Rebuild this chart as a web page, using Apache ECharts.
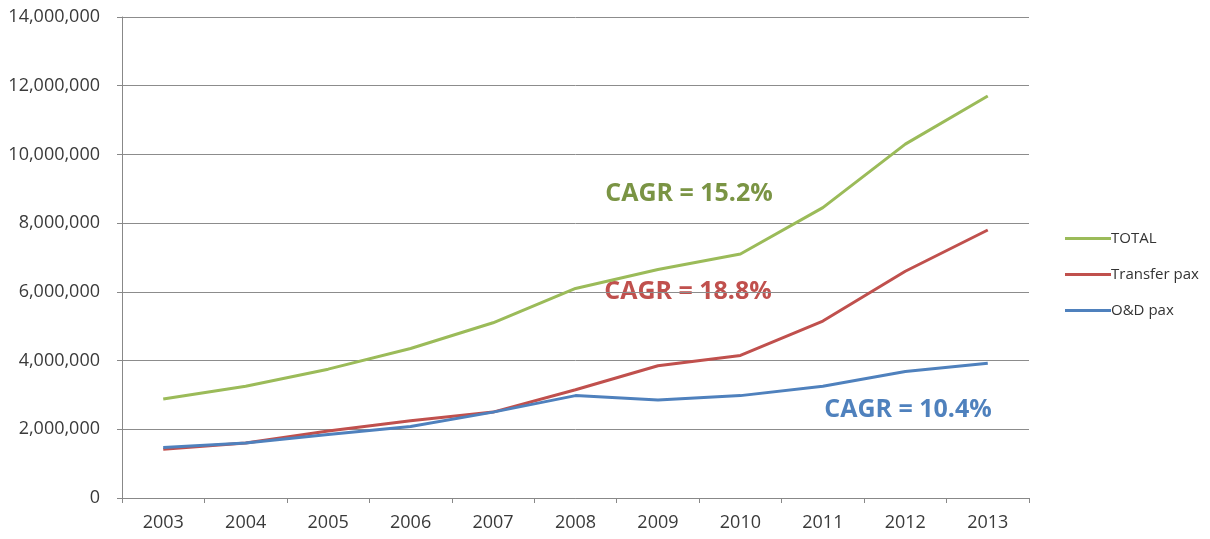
<!DOCTYPE html>
<html>
<head>
<meta charset="utf-8">
<script src="https://cdn.jsdelivr.net/npm/echarts@6/dist/echarts.min.js"></script>
<style>
  html, body { margin: 0; padding: 0; background: #ffffff; }
  #chart { width: 1210px; height: 539px; }
</style>
</head>
<body>
<div id="chart"></div>
<script>
// Passenger traffic by year
const years = ['2003', '2004', '2005', '2006', '2007', '2008', '2009', '2010', '2011', '2012', '2013'];
const totalPax = [2880000, 3250000, 3750000, 4350000, 5100000, 6100000, 6650000, 7100000, 8450000, 10300000, 11700000];
const transferPax = [1420000, 1600000, 1950000, 2250000, 2500000, 3150000, 3850000, 4150000, 5150000, 6600000, 7800000];
const odPax = [1470000, 1600000, 1850000, 2080000, 2500000, 2980000, 2850000, 2980000, 3250000, 3680000, 3920000];
const seriesNames = ['TOTAL', 'Transfer pax', 'O&D pax'];
const cagrLabels = ['CAGR = 15.2%', 'CAGR = 18.8%', 'CAGR = 10.4%'];

const colors = ['#9bbb59', '#c0504d', '#4f81bd'];
const labelColors = ['#7a9444', '#c0504d', '#4f81bd'];
const fontFamily = '"Open Sans", "Liberation Sans", sans-serif';

const chart = echarts.init(document.getElementById('chart'));

function fmt(v) {
  return v.toLocaleString('en-US');
}

const lineSeries = [totalPax, transferPax, odPax].map((data, i) => ({
  name: seriesNames[i],
  type: 'line',
  data: data,
  symbol: 'none',
  smooth: false,
  lineStyle: { width: 3, color: colors[i] },
  itemStyle: { color: colors[i] },
  z: 2 + i
}));

// CAGR annotations, centred on their anchor points
const cagrPos = [[689, 194], [688, 292], [908, 410]];
const cagrGraphics = cagrLabels.map((t, i) => ({
  type: 'text',
  x: cagrPos[i][0],
  y: cagrPos[i][1],
  style: {
    text: t,
    fill: labelColors[i],
    font: 'bold 25px ' + fontFamily,
    textAlign: 'center',
    textVerticalAlign: 'middle'
  }
}));

chart.setOption({
  animation: false,
  backgroundColor: '#ffffff',
  textStyle: { fontFamily: fontFamily },
  grid: { left: 122, right: 181, top: 17, bottom: 41, containLabel: false },
  legend: {
    orient: 'vertical',
    left: 1060,
    top: 226,
    itemWidth: 46,
    itemHeight: 3,
    itemGap: 21,
    icon: 'rect',
    data: seriesNames,
    textStyle: { fontSize: 15, color: '#333333', padding: [0, 0, 0, -5] }
  },
  xAxis: {
    type: 'category',
    data: years,
    boundaryGap: true,
    axisLine: { lineStyle: { color: '#888888', width: 1 } },
    axisTick: { show: true, length: 5, lineStyle: { color: '#888888' } },
    axisLabel: { fontSize: 18, color: '#3a3a3a', margin: 16 }
  },
  yAxis: {
    type: 'value',
    min: 0,
    max: 14000000,
    interval: 2000000,
    axisLine: { show: true, lineStyle: { color: '#888888', width: 1 } },
    axisTick: { show: true, length: 5, lineStyle: { color: '#888888' } },
    splitLine: { show: true, lineStyle: { color: '#8c8c8c', width: 1 } },
    axisLabel: { fontSize: 18, color: '#3a3a3a', margin: 22, formatter: fmt }
  },
  graphic: cagrGraphics,
  series: lineSeries
});
</script>
</body>
</html>
